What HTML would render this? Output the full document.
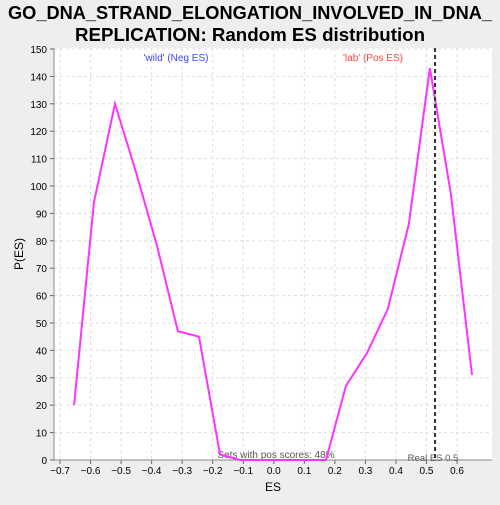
<!DOCTYPE html>
<html><head><meta charset="utf-8"><style>
body{margin:0;background:#eeeeee;width:500px;height:500px;overflow:hidden;font-family:"Liberation Sans","DejaVu Sans",sans-serif}
</style></head><body>
<svg width="500" height="500" font-family="Liberation Sans, DejaVu Sans, sans-serif">
<text x="250" y="19" text-anchor="middle" font-size="18" font-weight="bold" textLength="484" lengthAdjust="spacingAndGlyphs">GO_DNA_STRAND_ELONGATION_INVOLVED_IN_DNA_</text>
<text x="250" y="41" text-anchor="middle" font-size="18" font-weight="bold" textLength="350" lengthAdjust="spacingAndGlyphs">REPLICATION: Random ES distribution</text>
<rect x="54" y="48" width="438" height="412" fill="#fff"/>
<g id="grid"></g><g id="axes"></g>
<text x="176" y="61" text-anchor="middle" font-size="10" fill="#4444ff">'wild' (Neg ES)</text>
<text x="373" y="61" text-anchor="middle" font-size="10" fill="#ff4444">'lab' (Pos ES)</text>
<text x="276" y="458" text-anchor="middle" font-size="10" fill="#555">Sets with pos scores: 48%</text>
<text x="433" y="461" text-anchor="middle" font-size="9.5" fill="#555">Real ES 0.5</text>
<text x="273" y="491" text-anchor="middle" font-size="12">ES</text>
<text x="23" y="254" text-anchor="middle" font-size="12" transform="rotate(-90 23 254)">P(ES)</text>
<g id="series"></g>
</svg>
<script>
const xTicks=[-0.7,-0.6,-0.5,-0.4,-0.3,-0.2,-0.1,0.0,0.1,0.2,0.3,0.4,0.5,0.6];
const yTicks=[0,10,20,30,40,50,60,70,80,90,100,110,120,130,140,150];
const esValues=[-0.654,-0.589,-0.520,-0.451,-0.382,-0.314,-0.245,-0.176,-0.11,-0.04,0.03,0.10,0.171,0.236,0.305,0.373,0.442,0.511,0.580,0.649];
const pValues=[20,94,130,105,78,47,45,2,0,0,0,0,0,27,39,55,86,143,97,31];
const realES=[0.528];
const NS="http://www.w3.org/2000/svg";
const X=v=>273.8+v*305.4, Y=v=>460-v*(411/150);
function mk(t,a,p){const e=document.createElementNS(NS,t);for(const k in a)e.setAttribute(k,a[k]);p.appendChild(e);return e;}
const g=document.getElementById('grid'),ax=document.getElementById('axes'),s=document.getElementById('series');
xTicks.forEach(t=>{const x=X(t);
 let l=mk('line',{x1:x,x2:x,y1:48,y2:460,stroke:'#ddd','stroke-dasharray':'3,3'},g);
 
 mk('line',{x1:x,x2:x,y1:460,y2:464,stroke:'#666'},ax);
 let tx=mk('text',{x:x,y:474,'text-anchor':'middle','font-size':10},ax);tx.textContent=(t<0?'\u2212'+(-t).toFixed(1):t.toFixed(1));
 });
yTicks.forEach(t=>{const y=Y(t);
 let l=mk('line',{x1:54,x2:492,y1:y,y2:y,stroke:'#ddd','stroke-dasharray':'3,3'},g);
 
 mk('line',{x1:50,x2:54,y1:y,y2:y,stroke:'#666'},ax);
 let tx=mk('text',{x:47,y:y+4,'text-anchor':'end','font-size':10},ax);tx.textContent=t;
 });
mk('line',{x1:54,x2:54,y1:48,y2:460,stroke:'#888'},ax);
mk('line',{x1:54,x2:492,y1:460,y2:460,stroke:'#888'},ax);
const pl=mk('polyline',{points:esValues.map((v,i)=>X(v)+','+Y(pValues[i])).join(' '),fill:'none',stroke:'#ff33ff','stroke-width':2},s);

realES.forEach(v=>{const l=mk('line',{x1:X(v),x2:X(v),y1:48,y2:460,stroke:'#333','stroke-width':2,'stroke-dasharray':'4,3'},s);
 });
</script>
</body></html>
